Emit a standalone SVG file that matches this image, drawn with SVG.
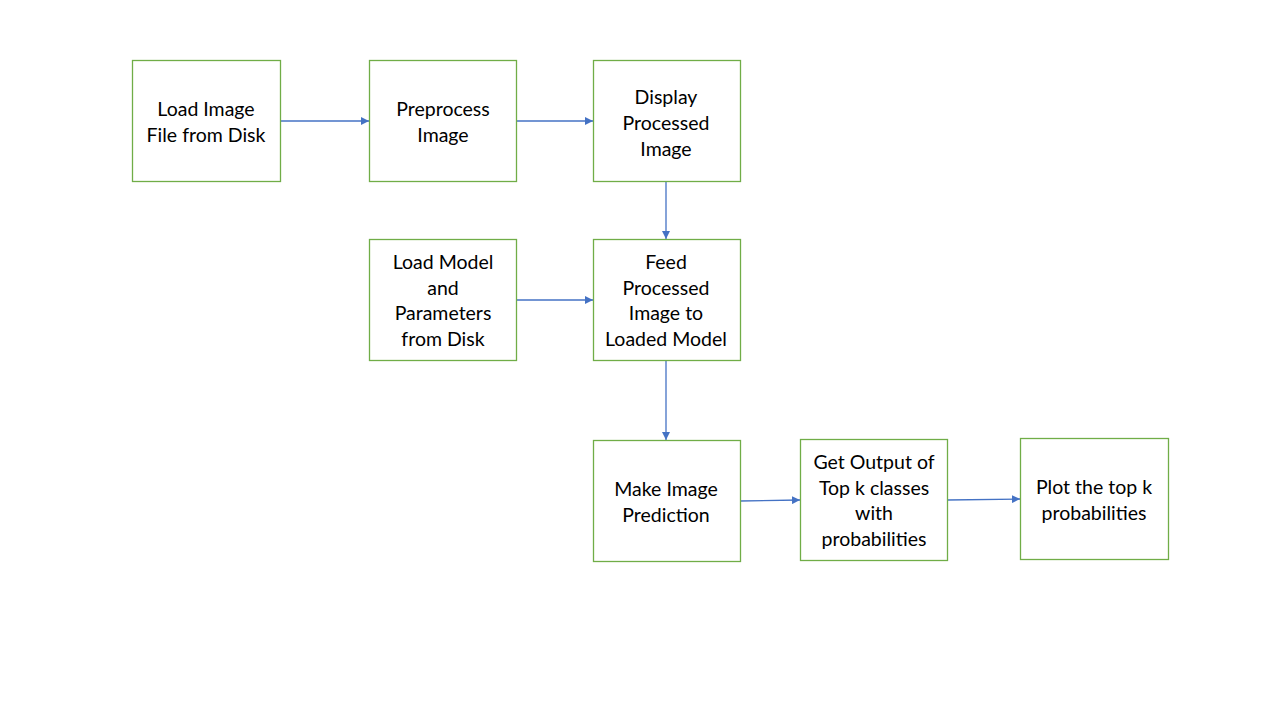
<svg xmlns="http://www.w3.org/2000/svg" width="1280" height="720" viewBox="0 0 1280 720">
<style>
.box{fill:#fff;stroke:#70AD47;stroke-width:1.3}
.t{font-family:Lato,"Open Sans","Liberation Sans",sans-serif;font-size:19.5px;fill:#000;text-anchor:middle;dominant-baseline:central}
.c{stroke:#4472C4;stroke-width:1.3;fill:none;marker-end:url(#a)}
</style>
<defs>
<marker id="a" viewBox="0 0 10 10" refX="10" refY="5" markerWidth="8" markerHeight="8" markerUnits="userSpaceOnUse" orient="auto">
<path d="M0,0 L10,5 L0,10 z" fill="#4472C4"/>
</marker>
</defs>
<rect width="1280" height="720" fill="#fff"/>
<g id="connectors">
<line class="c" x1="280" y1="121" x2="369" y2="121"/>
<line class="c" x1="516" y1="121" x2="593" y2="121"/>
<line class="c" x1="666" y1="181" x2="666" y2="239"/>
<line class="c" x1="516" y1="300" x2="593" y2="300"/>
<line class="c" x1="666" y1="360" x2="666" y2="440"/>
<line class="c" x1="740" y1="501" x2="800" y2="500"/>
<line class="c" x1="947" y1="500" x2="1020" y2="499"/>
</g>
<g id="n1"><rect class="box" x="132.5" y="60.5" width="148" height="121"/>
<text class="t" x="206" y="108">Load Image</text><text class="t" x="206" y="134">File from Disk</text></g>
<g id="n2"><rect class="box" x="369.5" y="60.5" width="147" height="121"/>
<text class="t" x="443" y="108">Preprocess</text><text class="t" x="443" y="134">Image</text></g>
<g id="n3"><rect class="box" x="593.5" y="60.5" width="147" height="121"/>
<text class="t" x="666" y="96">Display</text><text class="t" x="666" y="122">Processed</text><text class="t" x="666" y="148">Image</text></g>
<g id="n4"><rect class="box" x="369.5" y="239.5" width="147" height="121"/>
<text class="t" x="443" y="261">Load Model</text><text class="t" x="443" y="287">and</text><text class="t" x="443" y="312">Parameters</text><text class="t" x="443" y="338">from Disk</text></g>
<g id="n5"><rect class="box" x="593.5" y="239.5" width="147" height="121"/>
<text class="t" x="666" y="261">Feed</text><text class="t" x="666" y="287">Processed</text><text class="t" x="666" y="312">Image to</text><text class="t" x="666" y="338">Loaded Model</text></g>
<g id="n6"><rect class="box" x="593.5" y="440.5" width="147" height="121"/>
<text class="t" x="666" y="488">Make Image</text><text class="t" x="666" y="514">Prediction</text></g>
<g id="n7"><rect class="box" x="800.5" y="439.5" width="147" height="121"/>
<text class="t" x="874" y="461">Get Output of</text><text class="t" x="874" y="487">Top k classes</text><text class="t" x="874" y="512">with</text><text class="t" x="874" y="538">probabilities</text></g>
<g id="n8"><rect class="box" x="1020.5" y="438.5" width="148" height="121"/>
<text class="t" x="1094" y="486">Plot the top k</text><text class="t" x="1094" y="512">probabilities</text></g>
</svg>
